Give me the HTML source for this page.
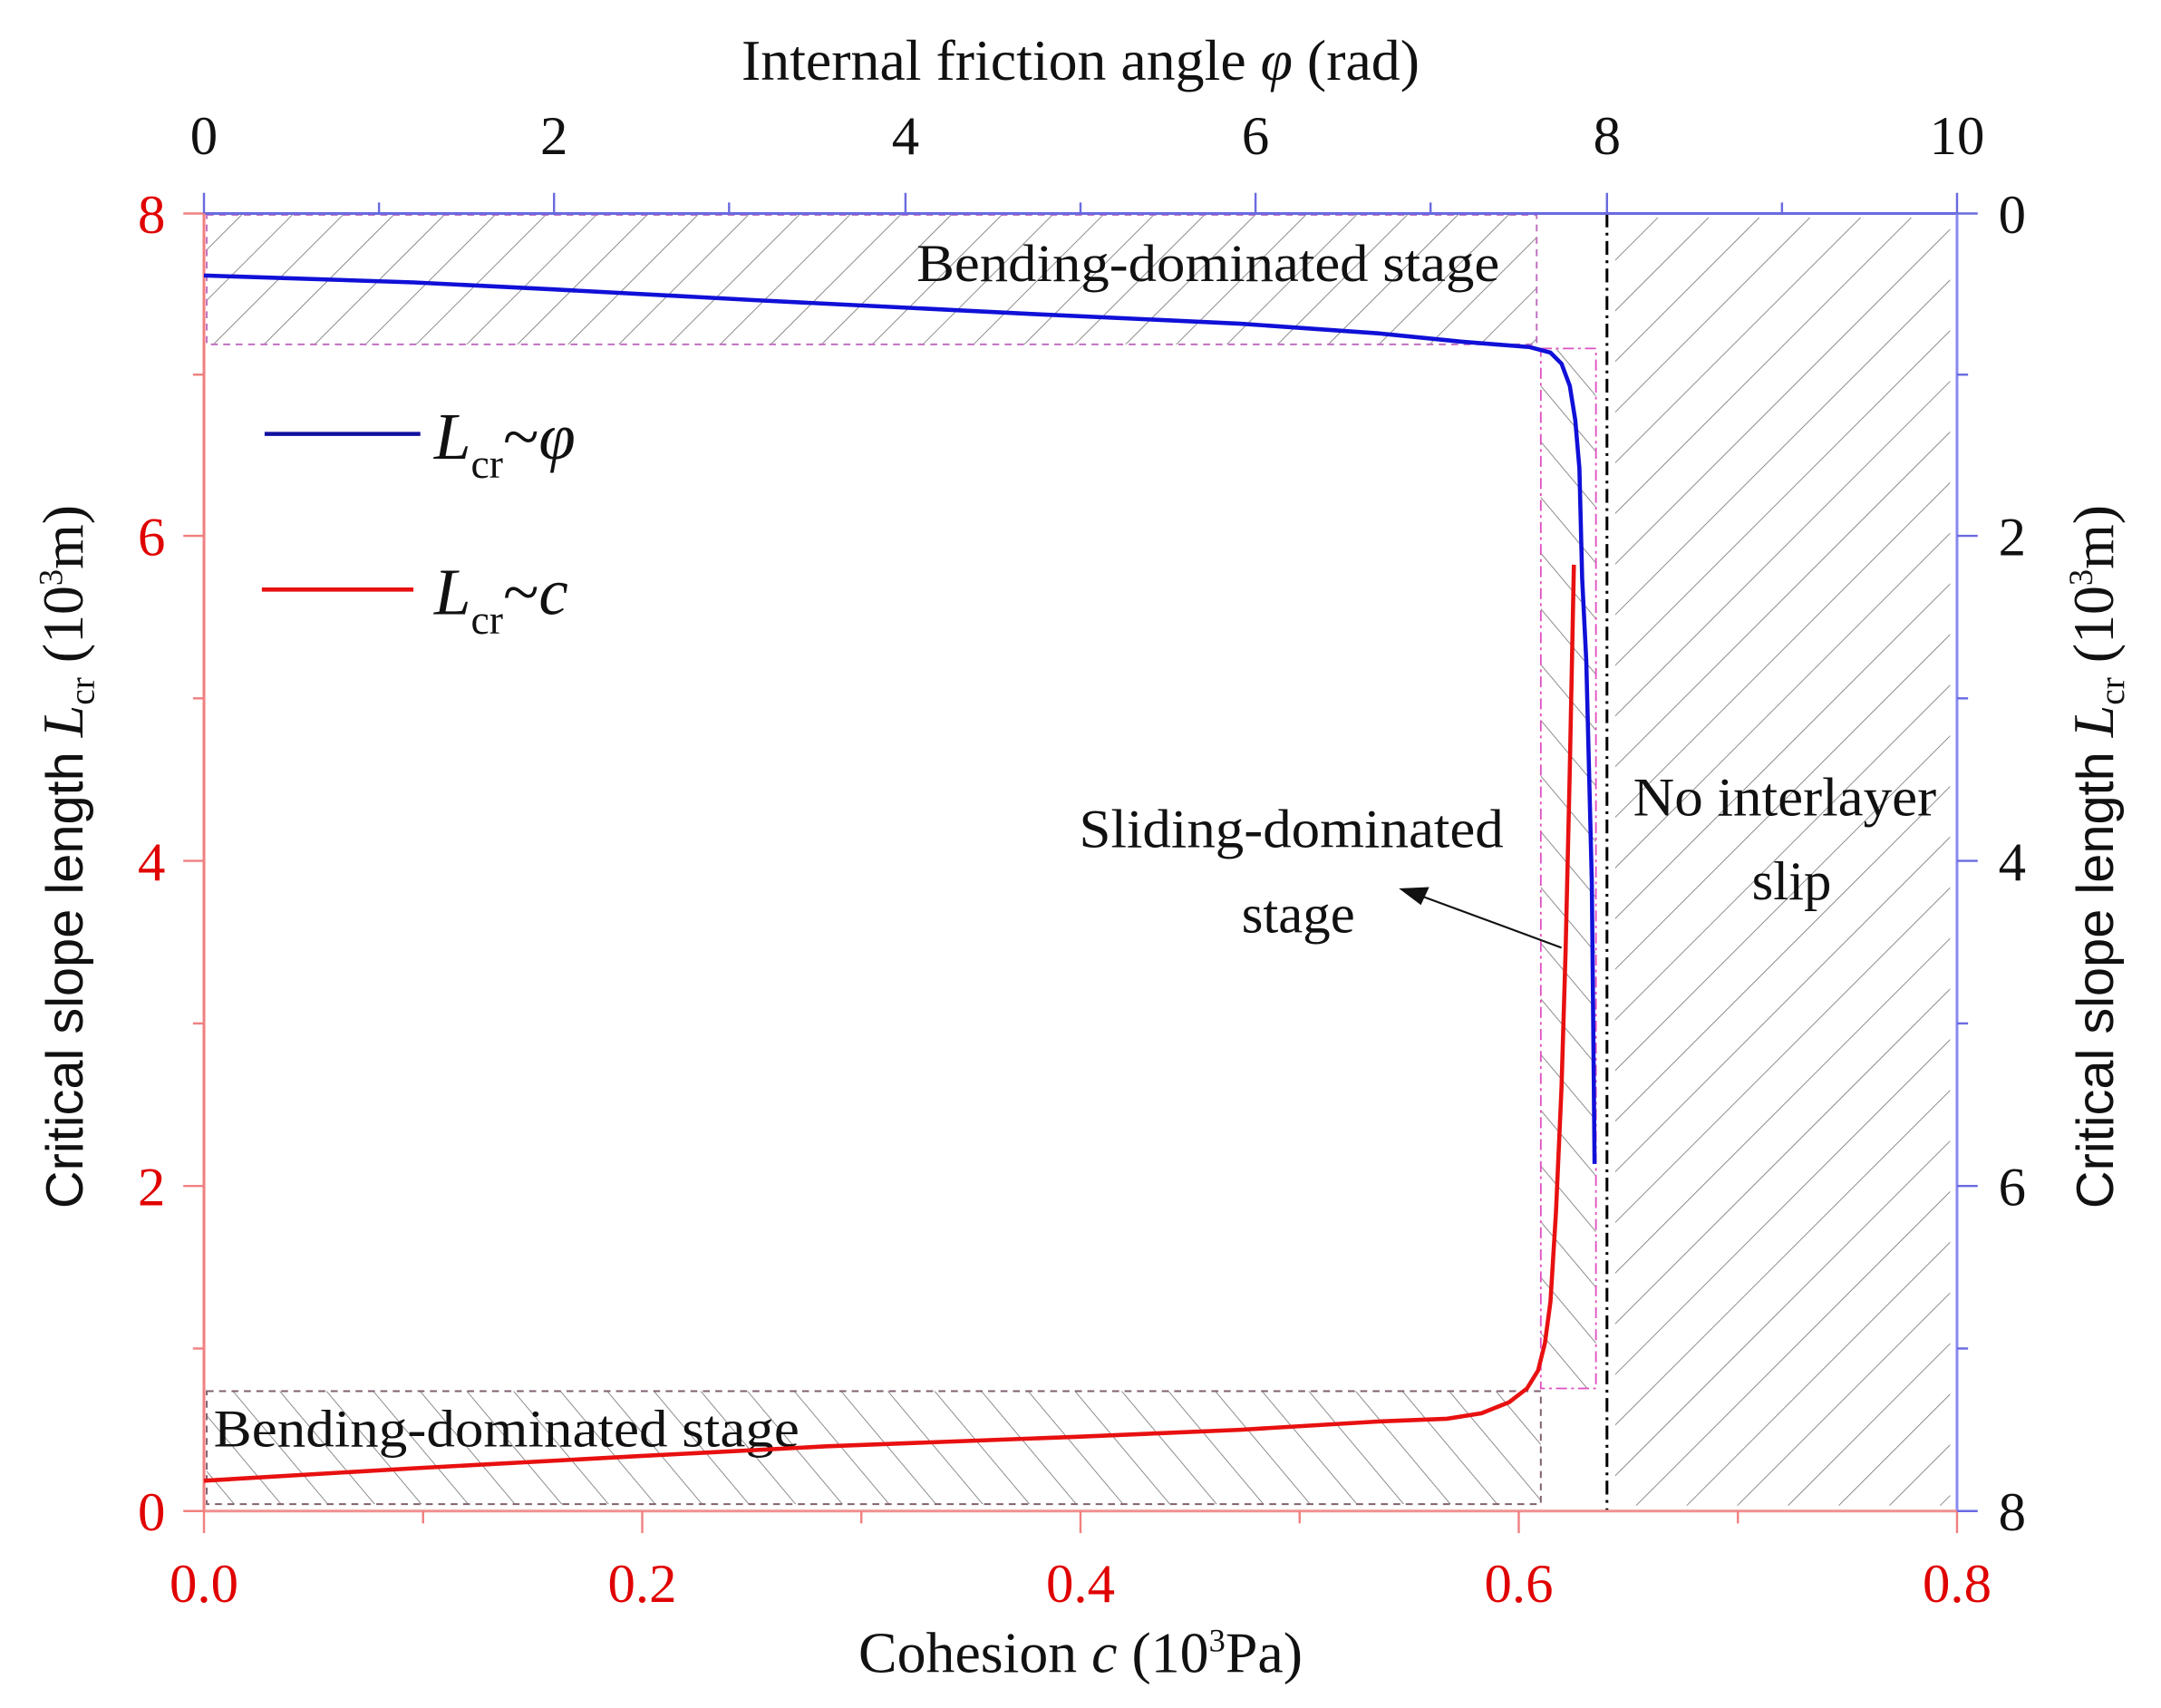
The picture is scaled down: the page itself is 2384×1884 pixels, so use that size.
<!DOCTYPE html>
<html><head><meta charset="utf-8"><style>html,body{margin:0;padding:0;background:#fff;}svg{display:block}</style></head>
<body>
<svg width="2384" height="1884" viewBox="0 0 1568 1240" preserveAspectRatio="none" xmlns="http://www.w3.org/2000/svg" font-family="'Liberation Serif', serif">
<defs>
<pattern id="hf" patternUnits="userSpaceOnUse" width="26" height="26" patternTransform="rotate(45)">
<line x1="0" y1="0" x2="0" y2="26" stroke="#777" stroke-width="1.1"/></pattern>
<pattern id="hb" patternUnits="userSpaceOnUse" width="26" height="26" patternTransform="rotate(-40)">
<line x1="0" y1="0" x2="0" y2="26" stroke="#777" stroke-width="1.1"/></pattern>
</defs>
<rect x="150" y="156" width="965" height="94" fill="url(#hf)" stroke="#c070c0" stroke-width="1.3" stroke-dasharray="5,4"/>
<rect x="1118" y="253" width="40" height="755" fill="url(#hb)" stroke="#e050c0" stroke-width="1.2" stroke-dasharray="8,3,2,3"/>
<rect x="150" y="1010" width="968" height="82" fill="url(#hb)" stroke="#806070" stroke-width="1.3" stroke-dasharray="5,4"/>
<rect x="1172" y="158" width="243" height="935" fill="url(#hf)"/>
<line x1="1166" y1="155" x2="1166" y2="1097" stroke="#000" stroke-width="2" stroke-dasharray="10,4,2,4"/>
<line x1="148" y1="155" x2="1420" y2="155" stroke="#6a6ae0" stroke-width="2"/>
<line x1="1420" y1="155" x2="1420" y2="1097" stroke="#8a8af0" stroke-width="2"/>
<line x1="148" y1="155" x2="148" y2="1097" stroke="#f08080" stroke-width="2"/>
<line x1="148" y1="1097" x2="1420" y2="1097" stroke="#f09090" stroke-width="2"/>
<g stroke="#f08080" stroke-width="1.6">
<line x1="133" y1="155" x2="148" y2="155"/><line x1="133" y1="389" x2="148" y2="389"/><line x1="133" y1="625" x2="148" y2="625"/><line x1="133" y1="861" x2="148" y2="861"/><line x1="133" y1="1097" x2="148" y2="1097"/>
<line x1="140" y1="272" x2="148" y2="272"/><line x1="140" y1="507" x2="148" y2="507"/><line x1="140" y1="743" x2="148" y2="743"/><line x1="140" y1="979" x2="148" y2="979"/>
<line x1="148" y1="1097" x2="148" y2="1113"/><line x1="466" y1="1097" x2="466" y2="1113"/><line x1="784" y1="1097" x2="784" y2="1113"/><line x1="1102" y1="1097" x2="1102" y2="1113"/><line x1="1420" y1="1097" x2="1420" y2="1113"/>
<line x1="307" y1="1097" x2="307" y2="1106"/><line x1="625" y1="1097" x2="625" y2="1106"/><line x1="943" y1="1097" x2="943" y2="1106"/><line x1="1261" y1="1097" x2="1261" y2="1106"/>
</g>
<g stroke="#6a6ae0" stroke-width="1.6">
<line x1="148" y1="140" x2="148" y2="155"/><line x1="402" y1="140" x2="402" y2="155"/><line x1="657" y1="140" x2="657" y2="155"/><line x1="911" y1="140" x2="911" y2="155"/><line x1="1166" y1="140" x2="1166" y2="155"/><line x1="1420" y1="140" x2="1420" y2="155"/>
<line x1="275" y1="147" x2="275" y2="155"/><line x1="529" y1="147" x2="529" y2="155"/><line x1="784" y1="147" x2="784" y2="155"/><line x1="1038" y1="147" x2="1038" y2="155"/><line x1="1293" y1="147" x2="1293" y2="155"/>
<line x1="1420" y1="155" x2="1435" y2="155"/><line x1="1420" y1="389" x2="1435" y2="389"/><line x1="1420" y1="625" x2="1435" y2="625"/><line x1="1420" y1="861" x2="1435" y2="861"/><line x1="1420" y1="1097" x2="1435" y2="1097"/>
<line x1="1420" y1="272" x2="1428" y2="272"/><line x1="1420" y1="507" x2="1428" y2="507"/><line x1="1420" y1="743" x2="1428" y2="743"/><line x1="1420" y1="979" x2="1428" y2="979"/>
</g>
<g fill="#e00000" font-size="40" text-anchor="end">
<text x="120" y="169">8</text><text x="120" y="403">6</text><text x="120" y="639">4</text><text x="120" y="875">2</text><text x="120" y="1111">0</text>
</g>
<g fill="#e00000" font-size="40" text-anchor="middle">
<text x="148" y="1163">0.0</text><text x="466" y="1163">0.2</text><text x="784" y="1163">0.4</text><text x="1102" y="1163">0.6</text><text x="1420" y="1163">0.8</text>
</g>
<g fill="#111" font-size="40" text-anchor="middle">
<text x="148" y="112">0</text><text x="402" y="112">2</text><text x="657" y="112">4</text><text x="911" y="112">6</text><text x="1166" y="112">8</text><text x="1420" y="112">10</text>
</g>
<g fill="#111" font-size="40" text-anchor="start">
<text x="1450" y="169">0</text><text x="1450" y="403">2</text><text x="1450" y="639">4</text><text x="1450" y="875">6</text><text x="1450" y="1111">8</text>
</g>
<text x="784" y="58" font-size="42" text-anchor="middle" fill="#111">Internal friction angle <tspan font-style="italic">φ</tspan> (rad)</text>
<text x="784" y="1214" font-size="42" text-anchor="middle" fill="#111">Cohesion <tspan font-style="italic">c</tspan> (10<tspan font-size="24" dy="-15">3</tspan><tspan dy="15">Pa)</tspan></text>
<text transform="translate(60,622) rotate(-90)" font-family="'Liberation Sans', sans-serif" font-size="38" text-anchor="middle" fill="#111">Critical slope length <tspan font-family="'Liberation Serif', serif" font-style="italic" font-size="42">L</tspan><tspan font-family="'Liberation Serif', serif" font-size="26" dy="8">cr</tspan><tspan font-family="'Liberation Serif', serif" font-size="42" dy="-8"> (10</tspan><tspan font-family="'Liberation Serif', serif" font-size="24" dy="-15">3</tspan><tspan font-family="'Liberation Serif', serif" font-size="42" dy="15">m)</tspan></text>
<text transform="translate(1533,622) rotate(-90)" font-family="'Liberation Sans', sans-serif" font-size="38" text-anchor="middle" fill="#111">Critical slope length <tspan font-family="'Liberation Serif', serif" font-style="italic" font-size="42">L</tspan><tspan font-family="'Liberation Serif', serif" font-size="26" dy="8">cr</tspan><tspan font-family="'Liberation Serif', serif" font-size="42" dy="-8"> (10</tspan><tspan font-family="'Liberation Serif', serif" font-size="24" dy="-15">3</tspan><tspan font-family="'Liberation Serif', serif" font-size="42" dy="15">m)</tspan></text>
<text x="665" y="204" font-size="38" fill="#111" textLength="423" lengthAdjust="spacingAndGlyphs">Bending-dominated stage</text>
<text x="155" y="1050" font-size="38" fill="#111" textLength="425" lengthAdjust="spacingAndGlyphs">Bending-dominated stage</text>
<text x="937" y="615" font-size="40" fill="#111" text-anchor="middle" textLength="308" lengthAdjust="spacingAndGlyphs">Sliding-dominated</text>
<text x="942" y="677" font-size="40" fill="#111" text-anchor="middle">stage</text>
<text x="1295" y="592" font-size="40" fill="#111" text-anchor="middle" textLength="220" lengthAdjust="spacingAndGlyphs">No interlayer</text>
<text x="1300" y="653" font-size="40" fill="#111" text-anchor="middle">slip</text>
<line x1="1133" y1="688" x2="1030" y2="650" stroke="#111" stroke-width="1.4"/>
<polygon points="1015,645 1037,644 1031,657" fill="#111"/>
<polyline fill="none" stroke="#1010d8" stroke-width="3" points="148,200 300,205 400,210 550,218 750,228 900,235 1000,242 1060,248 1110,252 1125,256 1133,264 1139,280 1143,305 1146,340 1148,420 1151,480 1153,560 1155,640 1156,740 1157,845"/>
<polyline fill="none" stroke="#e81010" stroke-width="3" points="148,1075 300,1066 466,1057 600,1050 784,1043 900,1038 1000,1032 1050,1030 1075,1026 1095,1018 1108,1008 1116,995 1121,975 1125,945 1129,880 1133,790 1136,690 1139,560 1142,410"/>
<line x1="192" y1="315" x2="305" y2="315" stroke="#1010a0" stroke-width="3"/>
<text x="315" y="333" font-size="48" font-style="italic" fill="#111">L<tspan font-style="normal" font-size="30" dy="14">cr</tspan><tspan dy="-14" font-style="normal">~</tspan>φ</text>
<line x1="190" y1="428" x2="300" y2="428" stroke="#e81010" stroke-width="3"/>
<text x="315" y="446" font-size="48" font-style="italic" fill="#111">L<tspan font-style="normal" font-size="30" dy="14">cr</tspan><tspan dy="-14" font-style="normal">~</tspan>c</text>
</svg>
</body></html>
